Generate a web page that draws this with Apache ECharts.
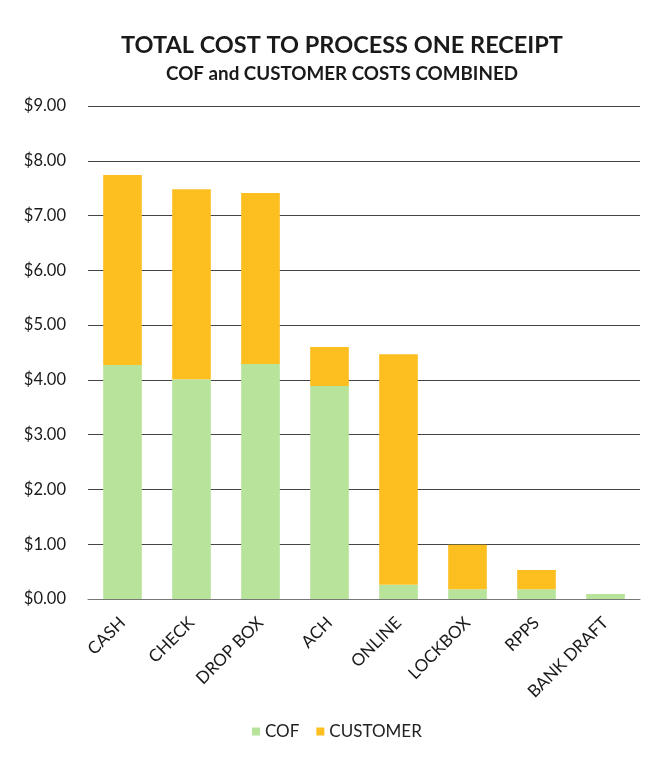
<!DOCTYPE html>
<html><head><meta charset="utf-8">
<script src="https://cdn.jsdelivr.net/npm/echarts@6/dist/echarts.min.js"></script>
<style>html,body{margin:0;padding:0;background:#fff}#c{width:658px;height:759px}</style>
</head><body><div id="c"></div>
<script>
const categories = ['CASH','CHECK','DROP BOX','ACH','ONLINE','LOCKBOX','RPPS','BANK DRAFT'];
const cof = [4.27, 4.01, 4.29, 3.89, 0.26, 0.18, 0.18, 0.09];
const customer = [3.47, 3.47, 3.12, 0.71, 4.21, 0.81, 0.35, 0];
const seriesNames = ['COF','CUSTOMER'];
const colors = ['#b8e39b','#fdbf20'];
const font = 'Lato, "Open Sans", sans-serif';
const chart = echarts.init(document.getElementById('c'));
chart.setOption({
  animation:false,
  title:{text:'TOTAL COST TO PROCESS ONE RECEIPT',subtext:'COF and CUSTOMER COSTS COMBINED',left:337,textAlign:'center',top:28,itemGap:7,
    textStyle:{fontFamily:font,fontWeight:'bold',fontSize:23.5,color:'#1a1a1a'},
    subtextStyle:{fontFamily:font,fontWeight:'bold',fontSize:18.8,color:'#1a1a1a'}},
  legend:{bottom:14,left:247,itemWidth:8,itemHeight:8,itemGap:17,icon:'rect',
    textStyle:{fontFamily:font,fontSize:17,color:'#222'},data:seriesNames},
  grid:{left:88,right:18,top:106,bottom:160},
  xAxis:{type:'category',data:categories,axisTick:{show:false},
    axisLine:{lineStyle:{color:'#777'}},
    axisLabel:{rotate:45,fontFamily:font,fontSize:17,color:'#1a1a1a',margin:21,interval:0}},
  yAxis:{type:'value',min:0,max:9,interval:1,
    axisLabel:{formatter:v=>'$'+v.toFixed(2),fontFamily:font,fontSize:16.5,color:'#1a1a1a',margin:22},
    splitLine:{lineStyle:{color:'#444',width:1.2}},axisLine:{show:false},axisTick:{show:false}},
  series:[
    {name:seriesNames[0],type:'bar',stack:'t',data:cof,barWidth:'56%',itemStyle:{color:colors[0]}},
    {name:seriesNames[1],type:'bar',stack:'t',data:customer,barWidth:'56%',itemStyle:{color:colors[1]}}
  ]
});
</script></body></html>
